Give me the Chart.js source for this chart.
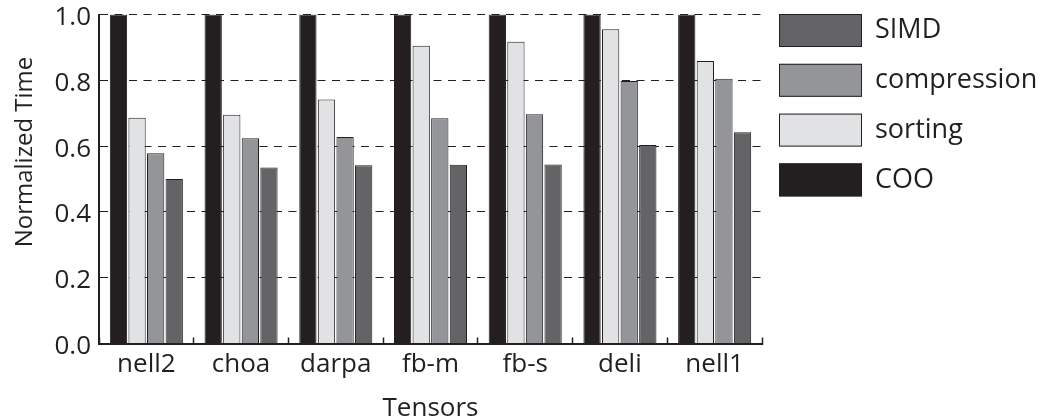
<!DOCTYPE html>
<html><head><meta charset="utf-8">
<script src="https://cdn.jsdelivr.net/npm/chart.js@4/dist/chart.umd.min.js"></script>
<style>html,body{margin:0;padding:0;background:#fff;overflow:hidden}#wrap{width:1047px;height:419px;position:relative}</style>
</head><body><div id="wrap"><canvas id="c" width="1047" height="419"></canvas></div>
<script>
const categories = ['nell2', 'choa', 'darpa', 'fb-m', 'fb-s', 'deli', 'nell1'];
const seriesNames = ['COO', 'sorting', 'compression', 'SIMD'];
const cooValues = [1.0, 1.0, 1.0, 1.0, 1.0, 1.0, 1.0];
const sortingValues = [0.686, 0.695, 0.742, 0.905, 0.917, 0.955, 0.859];
const compressionValues = [0.578, 0.624, 0.628, 0.685, 0.697, 0.798, 0.805];
const simdValues = [0.500, 0.535, 0.542, 0.543, 0.544, 0.603, 0.642];
const yTickValues = [0.0, 0.2, 0.4, 0.6, 0.8, 1.0];
const xTitle = 'Tensors';
const yTitle = 'Normalized Time';

const INK = '#231f20';
const FONT = "'Open Sans', 'Noto Sans', sans-serif";
const seriesColors = ['#231f20', '#e1e2e4', '#939598', '#646466'];
const seriesValues = [cooValues, sortingValues, compressionValues, simdValues];

// Side legend (drawn from the chart's datasets, newest series on top)
const sideLegend = {
  id: 'sideLegend',
  afterDraw(chart) {
    const {ctx, chartArea} = chart;
    const ds = chart.data.datasets.slice().reverse();
    const boxX = chartArea.right + 17, boxW = 83, boxH = 33, step = 49.8, top0 = 14;
    ctx.save();
    ctx.font = "27px " + FONT;
    ctx.textBaseline = 'middle';
    ctx.textAlign = 'left';
    ds.forEach((d, k) => {
      const y = top0 + k * step;
      ctx.fillStyle = d.backgroundColor;
      ctx.fillRect(boxX, y, boxW, boxH);
      ctx.strokeStyle = INK;
      ctx.lineWidth = 1;
      ctx.strokeRect(boxX + 0.5, y + 0.5, boxW - 1, boxH - 1);
      ctx.fillStyle = INK;
      ctx.fillText(d.label, boxX + boxW + 13, y + boxH / 2);
    });
    ctx.restore();
  }
};

const yTitlePlugin = {
  id: 'yTitlePlugin',
  afterDraw(chart) {
    const {ctx, chartArea} = chart;
    ctx.save();
    ctx.translate(31.5, chartArea.top + (chartArea.bottom - chartArea.top) * 0.418);
    ctx.rotate(-Math.PI / 2);
    ctx.font = "24px " + FONT;
    ctx.fillStyle = INK;
    ctx.textAlign = 'center';
    ctx.textBaseline = 'alphabetic';
    ctx.fillText(yTitle, 0, 0);
    ctx.restore();
  }
};

new Chart(document.getElementById('c'), {
  type: 'bar',
  data: {
    labels: categories,
    datasets: seriesNames.map((name, i) => ({
      label: name,
      data: seriesValues[i],
      backgroundColor: seriesColors[i],
      borderColor: INK,
      borderWidth: 1,
      categoryPercentage: 0.785,
      barPercentage: 0.93
    }))
  },
  options: {
    responsive: false,
    devicePixelRatio: 1,
    animation: false,
    layout: { padding: { left: 0, top: 0, bottom: 0, right: 285 } },
    plugins: {
      tooltip: { enabled: false },
      legend: { display: false }
    },
    scales: {
      x: {
        offset: true,
        afterFit(scale) { scale.height = 75.5; },
        grid: {
          display: true,
          offset: true,
          drawOnChartArea: false,
          drawTicks: true,
          tickLength: -6,
          tickColor: INK,
          tickWidth: 1.5,
          color: INK
        },
        border: { display: true, color: INK, width: 2 },
        ticks: {
          color: INK,
          padding: 13,
          font: { family: FONT, size: 26, lineHeight: 1.1 }
        },
        title: {
          display: true,
          text: xTitle,
          color: INK,
          padding: { top: 0, bottom: 0 },
          font: { family: FONT, size: 26, lineHeight: 0.8 }
        }
      },
      y: {
        min: 0,
        max: 1,
        afterFit(scale) { scale.width = 99; scale.paddingTop = 14.5; },
        afterBuildTicks(scale) { scale.ticks = yTickValues.map(v => ({ value: v })); },
        grid: {
          color: INK,
          lineWidth: 1,
          drawTicks: false
        },
        border: { display: true, color: INK, width: 2, dash: [8, 6.5] },
        ticks: {
          color: INK,
          padding: 8,
          labelOffset: 3,
          font: { family: FONT, size: 26, lineHeight: 1.1 },
          callback: (v) => Number(v).toFixed(1)
        },
        title: { display: false }
      }
    }
  },
  plugins: [yTitlePlugin, sideLegend]
});
</script>
</body></html>
